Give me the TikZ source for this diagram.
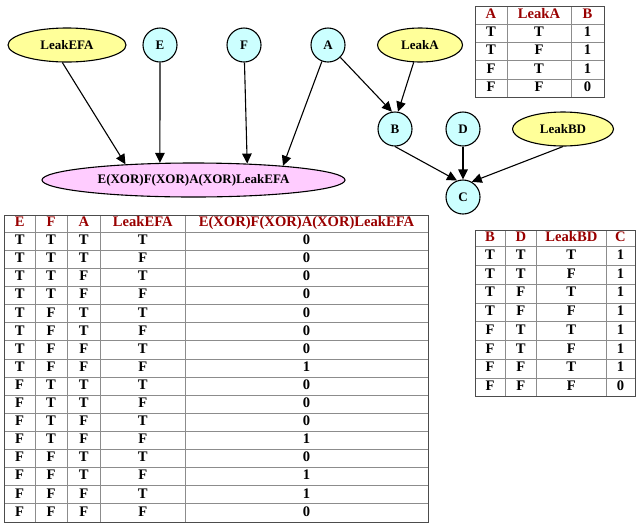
\documentclass[tikz,border=0pt]{standalone}
\usepackage{fontspec}
\setmainfont{Liberation Serif}
\usetikzlibrary{shapes.geometric,arrows.meta}
\definecolor{cyanfill}{HTML}{CCFFFF}
\definecolor{yellowfill}{HTML}{FFFF99}
\definecolor{pinkfill}{HTML}{FFCCFF}
\definecolor{hdr}{HTML}{990000}
\definecolor{gridc}{HTML}{8C8C8C}
\begin{document}
\begin{tikzpicture}[x=1pt,y=-1pt,
  nfont/.style={font=\fontsize{13}{15}\selectfont\bfseries},
  var/.style={circle,draw=black,line width=1.1pt,fill=cyanfill,minimum size=34pt,inner sep=0pt,nfont},
  leak/.style={ellipse,draw=black,line width=1.1pt,fill=yellowfill,minimum height=34pt,inner sep=0pt,nfont},
  xornode/.style={ellipse,draw=black,line width=1.1pt,fill=pinkfill,minimum width=303pt,minimum height=34pt,inner sep=0pt,nfont},
  edge/.style={draw=black,line width=1.1pt,-{Triangle[length=10pt,width=9.5pt]}},
  cell/.style={inner sep=0pt,text height=0.66em,text depth=0pt,font=\fontsize{14.6}{16}\selectfont\bfseries},
  hcell/.style={cell,text=hdr},
  outerline/.style={draw=black!70,line width=1pt},
  innerline/.style={draw=gridc,line width=0.8pt}
]
\useasboundingbox (0,0) rectangle (636,523);

% graph
\node[leak,minimum width=118pt] (leakefa) at (67,45) {LeakEFA};
\node[var] (E) at (160,45) {E};
\node[var] (F) at (244,45) {F};
\node[var] (A) at (328,45) {A};
\node[leak,minimum width=85pt] (leaka) at (420,45) {LeakA};
\node[var] (B) at (395,129) {B};
\node[var] (D) at (463,129) {D};
\node[leak,minimum width=101pt] (leakbd) at (563,129) {LeakBD};
\node[var] (C) at (463,197) {C};
\node[xornode] (xor) at (193.5,180) {E(XOR)F(XOR)A(XOR)LeakEFA};

\draw[edge] (leakefa.-105) -- (xor.167.3);
\draw[edge] (E) -- (xor.153.7);
\draw[edge] (F) -- (xor.17.6);
\draw[edge] (A) -- (xor.9.3);
\draw[edge] (A.-45) -- (B.100);
\draw[edge] (leaka.-110) -- (B.80);
\draw[edge] (B.south) -- (C.110);
\draw[edge] (D) -- (C);
\draw[edge] (leakbd.south) -- (C.60);

% table A
\foreach \y in {24.5,42.6,60.8,78.9} \draw[innerline] (475,\y) -- (604,\y);
\foreach \x in {507,571} \draw[innerline] (\x,6) -- (\x,97);
\draw[outerline] (475,6) rectangle (604,97);
\node[hcell] (ta-h1) at (491,15.3) {A};
\node[hcell] (ta-h2) at (539,15.3) {LeakA};
\node[hcell] (ta-h3) at (587.5,15.3) {B};
\foreach \a/\b/\c [count=\i] in {T/T/1,T/F/1,F/T/1,F/F/0} {
  \pgfmathsetmacro\yy{24.5+18.125*(\i-0.5)}
  \node[cell] (ta-\i-1) at (491,\yy) {\a};
  \node[cell] (ta-\i-2) at (539,\yy) {\b};
  \node[cell] (ta-\i-3) at (587.5,\yy) {\c};
}

% big table
\foreach \i in {0,...,15} {
  \pgfmathsetmacro\yy{232.2+18.11*\i}
  \draw[innerline] (4.3,\yy) -- (428,\yy);
}
\foreach \x in {35,67,100.7,185} \draw[innerline] (\x,215) -- (\x,522);
\draw[outerline] (4.3,215) rectangle (428,522);
\node[hcell] (tb-h1) at (19.65,223.6) {E};
\node[hcell] (tb-h2) at (51,223.6) {F};
\node[hcell] (tb-h3) at (83.85,223.6) {A};
\node[hcell] (tb-h4) at (142.85,223.6) {LeakEFA};
\node[hcell] (tb-h5) at (306.5,223.6) {E(XOR)F(XOR)A(XOR)LeakEFA};
\foreach \e/\f/\a/\l/\r [count=\i] in {
  T/T/T/T/0,T/T/T/F/0,T/T/F/T/0,T/T/F/F/0,
  T/F/T/T/0,T/F/T/F/0,T/F/F/T/0,T/F/F/F/1,
  F/T/T/T/0,F/T/T/F/0,F/T/F/T/0,F/T/F/F/1,
  F/F/T/T/0,F/F/T/F/1,F/F/F/T/1,F/F/F/F/0} {
  \pgfmathsetmacro\yy{232.2+18.11*(\i-0.5)}
  \node[cell] (tb-\i-1) at (19.65,\yy) {\e};
  \node[cell] (tb-\i-2) at (51,\yy) {\f};
  \node[cell] (tb-\i-3) at (83.85,\yy) {\a};
  \node[cell] (tb-\i-4) at (142.85,\yy) {\l};
  \node[cell] (tb-\i-5) at (306.5,\yy) {\r};
}

% table C
\foreach \i in {0,...,7} {
  \pgfmathsetmacro\yy{246.7+18.75*\i}
  \draw[innerline] (475,\yy) -- (635,\yy);
}
\foreach \x in {505,536.7,606} \draw[innerline] (\x,230) -- (\x,396.7);
\draw[outerline] (475,230) rectangle (635,396.7);
\node[hcell] (tc-h1) at (490,238.4) {B};
\node[hcell] (tc-h2) at (520.85,238.4) {D};
\node[hcell] (tc-h3) at (571.35,238.4) {LeakBD};
\node[hcell] (tc-h4) at (620.5,238.4) {C};
\foreach \b/\d/\l/\c [count=\i] in {T/T/T/1,T/T/F/1,T/F/T/1,T/F/F/1,F/T/T/1,F/T/F/1,F/F/T/1,F/F/F/0} {
  \pgfmathsetmacro\yy{246.7+18.75*(\i-0.5)}
  \node[cell] (tc-\i-1) at (490,\yy) {\b};
  \node[cell] (tc-\i-2) at (520.85,\yy) {\d};
  \node[cell] (tc-\i-3) at (571.35,\yy) {\l};
  \node[cell] (tc-\i-4) at (620.5,\yy) {\c};
}
\end{tikzpicture}
\end{document}
